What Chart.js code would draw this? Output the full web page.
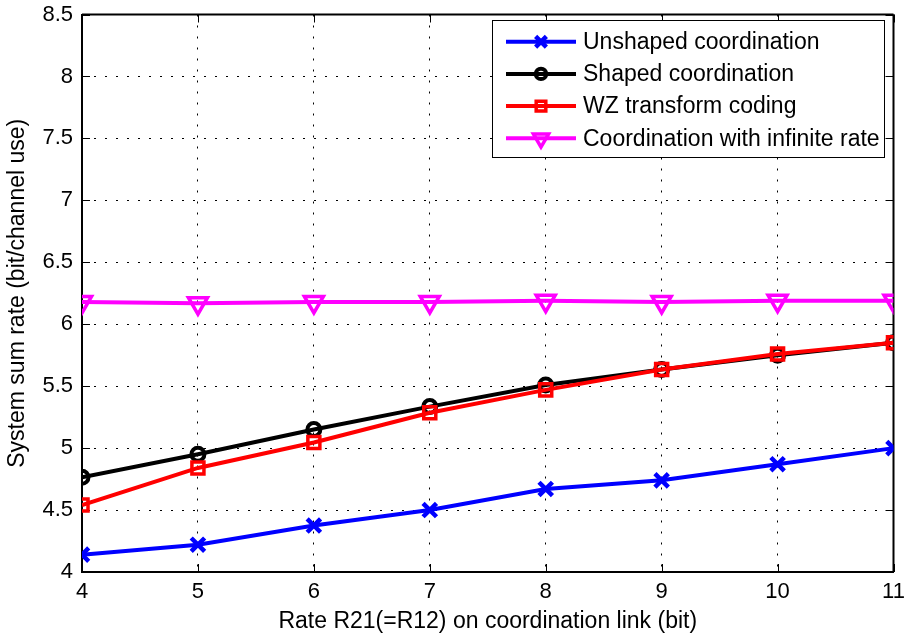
<!DOCTYPE html>
<html>
<head>
<meta charset="utf-8">
<script src="https://cdn.jsdelivr.net/npm/chart.js@4.4.1/dist/chart.umd.min.js"></script>
<style>
  html, body { margin: 0; padding: 0; background: #fff; }
  canvas { display: block; }
</style>
</head>
<body>
<canvas id="rateChart" width="908" height="641"></canvas>
<script>
'use strict';

// ── DATA ───────────────────────────────────────────────────
const rates      = [4, 5, 6, 7, 8, 9, 10, 11];
const unshaped   = [4.14, 4.22, 4.375, 4.50, 4.67, 4.74, 4.87, 5.00];
const shaped     = [4.765, 4.95, 5.15, 5.335, 5.51, 5.635, 5.75, 5.85];
const wzCoding   = [4.54, 4.84, 5.045, 5.285, 5.47, 5.635, 5.76, 5.85];
const infinite   = [6.18, 6.17, 6.18, 6.18, 6.19, 6.18, 6.19, 6.19];
const seriesNames = [
  'Unshaped coordination',
  'Shaped coordination',
  'WZ transform coding',
  'Coordination with infinite rate'
];
const xTickValues = [4, 5, 6, 7, 8, 9, 10, 11];
const yTickValues = [4, 4.5, 5, 5.5, 6, 6.5, 7, 7.5, 8, 8.5];

const FONT = "'Liberation Sans', Arial, Helvetica, sans-serif";
Chart.defaults.font.family = FONT;
Chart.defaults.color = '#000';

const toPoints = ys => rates.map((x, i) => ({ x, y: ys[i] }));

// ── STYLES ─────────────────────────────────────────────────
const styles = [
  { color: '#0000ff', pointStyle: 'crossRot', radius: 9.5, bw: 4.5, rotation: 0,   order: 3 },
  { color: '#000000', pointStyle: 'circle',   radius: 6.5, bw: 4,   rotation: 0,   order: 2 },
  { color: '#ff0000', pointStyle: 'rect',     radius: 8.5, bw: 3.5, rotation: 0,   order: 1 },
  { color: '#ff00ff', pointStyle: 'triangle', radius: 11,  bw: 3.5, rotation: 180, order: 0 }
];
const seriesData = [unshaped, shaped, wzCoding, infinite];

const datasets = seriesData.map((ys, i) => ({
  label: seriesNames[i],
  data: toPoints(ys),
  borderColor: styles[i].color,
  backgroundColor: 'rgba(0,0,0,0)',
  borderWidth: 4,
  tension: 0,
  pointStyle: styles[i].pointStyle,
  pointRadius: styles[i].radius,
  pointRotation: styles[i].rotation,
  pointBorderColor: styles[i].color,
  pointBackgroundColor: 'rgba(0,0,0,0)',
  pointBorderWidth: styles[i].bw,
  order: styles[i].order
}));

// ── FRAME: top/right box lines + inward ticks ──────────────
const framePlugin = {
  id: 'matlabFrame',
  beforeDatasetsDraw(chart) {
    const { ctx, chartArea: a, scales: { x, y } } = chart;
    ctx.save();
    ctx.strokeStyle = '#000';
    ctx.lineWidth = 2;
    ctx.beginPath();
    ctx.moveTo(a.left, a.top); ctx.lineTo(a.right, a.top);
    ctx.moveTo(a.right, a.top); ctx.lineTo(a.right, a.bottom);
    ctx.stroke();
    ctx.lineWidth = 1;
    const tl = 8;
    ctx.beginPath();
    xTickValues.forEach(v => {
      const px = Math.round(x.getPixelForValue(v)) + 0.5;
      ctx.moveTo(px, a.bottom); ctx.lineTo(px, a.bottom - tl);
      ctx.moveTo(px, a.top);    ctx.lineTo(px, a.top + tl);
    });
    yTickValues.forEach(v => {
      const py = Math.round(y.getPixelForValue(v)) + 0.5;
      ctx.moveTo(a.left, py);  ctx.lineTo(a.left + tl, py);
      ctx.moveTo(a.right, py); ctx.lineTo(a.right - tl, py);
    });
    ctx.stroke();
    ctx.restore();
  }
};

// ── LEGEND (line + marker samples, boxed) ──────────────────
const legendPlugin = {
  id: 'matlabLegend',
  afterDraw(chart) {
    const { ctx } = chart;
    const box = { x: 492.5, y: 20.5, w: 392, h: 137 };
    ctx.save();
    ctx.fillStyle = '#fff';
    ctx.fillRect(box.x, box.y, box.w, box.h);
    ctx.strokeStyle = '#000';
    ctx.lineWidth = 1;
    ctx.strokeRect(box.x, box.y, box.w, box.h);

    seriesNames.forEach((name, i) => {
      const st = styles[i];
      const ry = 41.7 + i * 32.2;
      ctx.strokeStyle = st.color;
      ctx.lineWidth = 4;
      ctx.beginPath();
      ctx.moveTo(506, ry); ctx.lineTo(576, ry);
      ctx.stroke();
      ctx.fillStyle = 'rgba(0,0,0,0)';
      ctx.lineWidth = st.bw;
      Chart.helpers.drawPoint(ctx, {
        pointStyle: st.pointStyle, radius: st.radius * 0.8,
        rotation: st.rotation, borderWidth: st.bw
      }, 541, ry);
      ctx.fillStyle = '#000';
      ctx.font = '23px ' + FONT;
      ctx.textBaseline = 'middle';
      ctx.textAlign = 'left';
      ctx.fillText(name, 583, ry + 1);
    });
    ctx.restore();
  }
};

// ── CHART ──────────────────────────────────────────────────
new Chart(document.getElementById('rateChart').getContext('2d'), {
  type: 'line',
  data: { datasets },
  options: {
    responsive: false,
    animation: false,
    layout: { padding: { top: 7, right: 11, left: 0, bottom: 0 } },
    plugins: { legend: { display: false }, tooltip: { enabled: false } },
    scales: {
      x: {
        type: 'linear', min: 4, max: 11,
        afterBuildTicks: s => { s.ticks = xTickValues.map(v => ({ value: v })); },
        ticks: { color: '#000', font: { size: 22 }, padding: 7, maxRotation: 0, autoSkip: false },
        grid: { color: '#000', lineWidth: 1, drawTicks: false },
        border: { display: true, color: '#000', width: 2, dash: [2, 9] },
        title: {
          display: true, text: 'Rate R21(=R12) on coordination link (bit)',
          color: '#000', font: { size: 23 }, padding: { top: 0, bottom: 6 }
        },
        afterFit: s => { s.height = 69; s.paddingLeft = 0; s.paddingRight = 0; }
      },
      y: {
        type: 'linear', min: 4, max: 8.5,
        afterBuildTicks: s => { s.ticks = yTickValues.map(v => ({ value: v })); },
        ticks: { color: '#000', font: { size: 22 }, padding: 9, autoSkip: false, callback: v => String(v) },
        grid: { color: '#000', lineWidth: 1, drawTicks: false },
        border: { display: true, color: '#000', width: 2, dash: [2, 9] },
        title: {
          display: true, text: 'System sum rate (bit/channel use)',
          color: '#000', font: { size: 23 }, padding: { top: 4, bottom: 0 }
        },
        afterFit: s => { s.width = 82; s.paddingTop = 0; s.paddingBottom = 0; }
      }
    }
  },
  plugins: [framePlugin, legendPlugin]
});
</script>
</body>
</html>
